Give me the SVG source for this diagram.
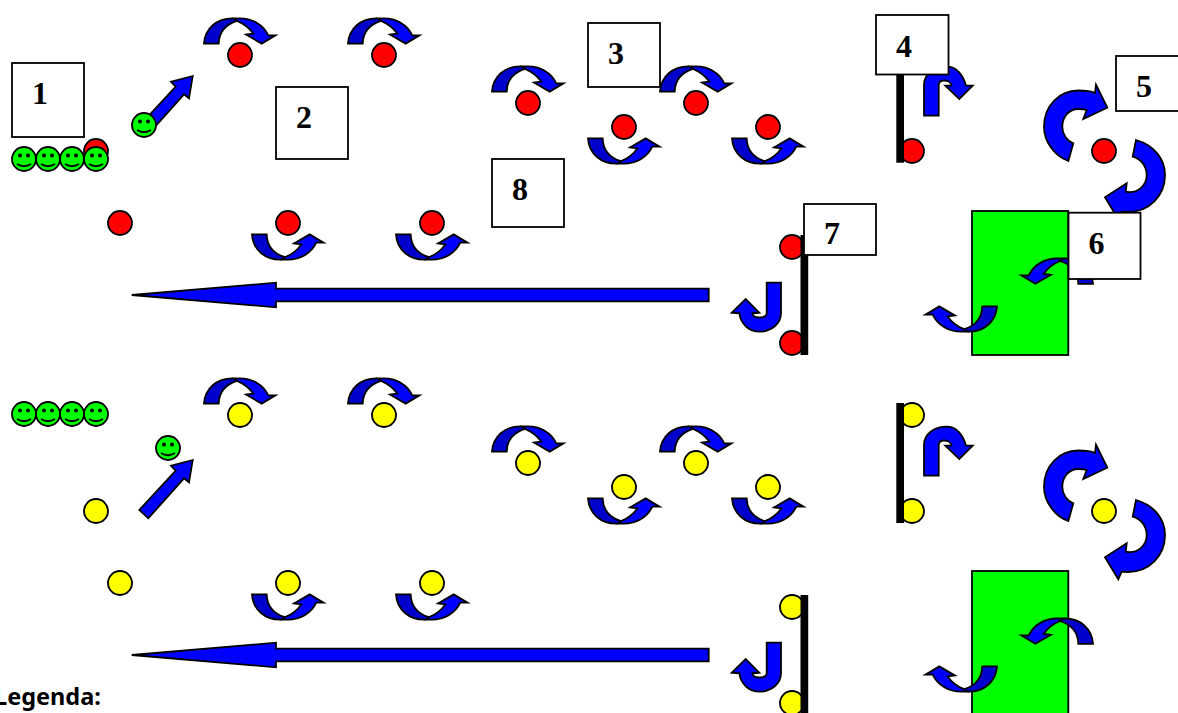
<svg xmlns="http://www.w3.org/2000/svg" width="1178" height="713" viewBox="0 0 1178 713">
<style>
.o{stroke:#000;stroke-width:1.8;stroke-linejoin:miter}
.a{fill:#0000ff}
.d{fill:#0000cc}
.r{fill:#ff0000}
.y{fill:#ffff00}
.g{fill:#00ff00}
.b{fill:#fff;stroke:#000;stroke-width:1.8}
.s{fill:#000;stroke:none}
.t{font-family:"Liberation Serif","Times New Roman",serif;font-weight:bold;font-size:32px;fill:#000}
.l{font-family:"Noto Sans",sans-serif;font-weight:bold;font-size:23.5px;fill:#000}
</style>
<defs>
<g id="curve">
<path class="o a" d="M28,0L36,0C48,0 59,6 64.3,17L71.5,17L57.7,25.3L42,16.3L49.3,15.3C45,9 39,5 33,2.5C32,1.5 30,0.5 28,0Z"/>
<path class="o d" d="M0,25.3C1,10 13,0 28,0C30,0 32,1.5 33,2.5C22,6 15,14 14.7,25.3Z"/>
</g>
<path id="bigA" class="o a" d="M-35.7,10C-50,5 -60,-10 -60,-24.3C-60,-45 -45,-60.5 -25.7,-60.5C-19,-60.5 -13,-60 -9,-58L-8,-66.3L3.3,-43.3L-20.7,-32L-17.3,-41C-20,-42 -23,-42 -25.7,-42C-35,-42 -41.7,-34 -41.7,-24.3C-41.7,-17 -37,-10 -30.7,-7.7Z"/>
<path id="bigB" class="o a" d="M32,-11C50,-6 61,8 61,24C61,45 45,61 24,61L17.7,60.7L14.3,68.3L1,46.3L22.7,32.3L21.7,40.7C33,43 42.7,35 42.7,24C42.7,15 37,8 28.7,5.7Z"/>
<path id="hook" class="o a" d="M924,115.7L924,85C924,74 934,66.7 946.7,66.7C956,66.7 963,74 966,85.7L972.7,85.7L959.3,99L945.3,85.7L951.7,85.7C951,82 947,80.5 944,80.5C941,80.5 938.7,82 938.7,85L938.7,115.7Z"/>
<path id="jay" class="o a" d="M781,282.7L781,313.3C781,324 771,331.7 759.3,331.7C749,331.7 741,324 739.3,313.3L731.7,312.7L745.7,299L759.3,312.7L752.3,313.3C753,316 755,317.5 758.3,317.5C763,317.5 766.7,316 766.7,313.3L766.7,282.7Z"/>
<path id="long" class="o a" d="M708.7,288.7L276,288.7L276,282.7L131.7,295L276,307.3L276,301.3L708.7,301.3Z"/>
<path id="diag" class="o a" d="M192.7,76L171,81.7L175.7,86.7L139.3,126L148.3,134.3L184,94.3L189,98.3Z"/>
<g id="smile">
<circle class="o g" r="12"/>
<circle class="s" cx="-4" cy="-3.5" r="2"/>
<circle class="s" cx="4" cy="-3.5" r="2"/>
<path d="M-7,5Q0,9.5 7,5" fill="none" stroke="#000" stroke-width="1.8"/>
</g>
</defs>

<g id="greenrect1"><rect class="o g" x="972" y="211" width="96.3" height="144"/></g>
<g id="greenrect2"><rect class="o g" x="972" y="571" width="96.3" height="144"/></g>

<g id="redballs">
<circle class="o r" cx="240" cy="55" r="12"/>
<circle class="o r" cx="384" cy="55" r="12"/>
<circle class="o r" cx="528" cy="103" r="12"/>
<circle class="o r" cx="696" cy="103" r="12"/>
<circle class="o r" cx="624" cy="127" r="12"/>
<circle class="o r" cx="768" cy="127" r="12"/>
<circle class="o r" cx="912" cy="151" r="12"/>
<circle class="o r" cx="1104" cy="151" r="12"/>
<circle class="o r" cx="120" cy="223" r="12"/>
<circle class="o r" cx="288" cy="223" r="12"/>
<circle class="o r" cx="432" cy="223" r="12"/>
<circle class="o r" cx="792" cy="247" r="12"/>
<circle class="o r" cx="792" cy="343" r="12"/>
<circle class="o r" cx="96" cy="151" r="12"/>
</g>
<g id="yellowballs">
<circle class="o y" cx="240" cy="415" r="12"/>
<circle class="o y" cx="384" cy="415" r="12"/>
<circle class="o y" cx="528" cy="463" r="12"/>
<circle class="o y" cx="696" cy="463" r="12"/>
<circle class="o y" cx="624" cy="487" r="12"/>
<circle class="o y" cx="768" cy="487" r="12"/>
<circle class="o y" cx="912" cy="415" r="12"/>
<circle class="o y" cx="912" cy="511" r="12"/>
<circle class="o y" cx="1104" cy="511" r="12"/>
<circle class="o y" cx="96" cy="511" r="12"/>
<circle class="o y" cx="120" cy="583" r="12"/>
<circle class="o y" cx="288" cy="583" r="12"/>
<circle class="o y" cx="432" cy="583" r="12"/>
<circle class="o y" cx="792" cy="607" r="12"/>
<circle class="o y" cx="792" cy="703" r="12"/>
</g>

<g id="walls">
<rect class="s" x="896.3" y="60" width="7.7" height="102.7"/>
<rect class="s" x="800.5" y="235" width="7.7" height="120"/>
<rect class="s" x="896.3" y="403" width="7.7" height="120"/>
<rect class="s" x="800.5" y="595" width="7.7" height="120"/>
</g>

<g id="connectors">
<use href="#diag"/>
<use href="#diag" y="384"/>
<use href="#curve" transform="translate(204,18.3)"/>
<use href="#curve" transform="translate(348,18.3)"/>
<use href="#curve" transform="translate(492,66.3)"/>
<use href="#curve" transform="translate(660,66.3)"/>
<use href="#curve" transform="translate(588,163.7) scale(1,-1)"/>
<use href="#curve" transform="translate(732,163.7) scale(1,-1)"/>
<use href="#curve" transform="translate(252,259.7) scale(1,-1)"/>
<use href="#curve" transform="translate(396,259.7) scale(1,-1)"/>
<use href="#hook"/>
<use href="#bigA" transform="translate(1104,151)"/>
<use href="#bigB" transform="translate(1104,151)"/>
<use href="#curve" transform="translate(1093,258.5) scale(-1,1)"/>
<use href="#curve" transform="translate(997,331.7) scale(-1,-1)"/>
<use href="#jay"/>
<use href="#long"/>
<use href="#curve" transform="translate(204,378.3)"/>
<use href="#curve" transform="translate(348,378.3)"/>
<use href="#curve" transform="translate(492,426.3)"/>
<use href="#curve" transform="translate(660,426.3)"/>
<use href="#curve" transform="translate(588,523.7) scale(1,-1)"/>
<use href="#curve" transform="translate(732,523.7) scale(1,-1)"/>
<use href="#curve" transform="translate(252,619.7) scale(1,-1)"/>
<use href="#curve" transform="translate(396,619.7) scale(1,-1)"/>
<use href="#hook" y="360"/>
<use href="#bigA" transform="translate(1104,511)"/>
<use href="#bigB" transform="translate(1104,511)"/>
<use href="#curve" transform="translate(1093,618.5) scale(-1,1)"/>
<use href="#curve" transform="translate(997,691.7) scale(-1,-1)"/>
<use href="#jay" y="360"/>
<use href="#long" y="360"/>
</g>

<g id="faces1">
<use href="#smile" x="24" y="159"/>
<use href="#smile" x="48" y="159"/>
<use href="#smile" x="72" y="159"/>
<use href="#smile" x="96" y="159"/>
<use href="#smile" x="144" y="125"/>
</g>
<g id="faces2">
<use href="#smile" x="24" y="414"/>
<use href="#smile" x="48" y="414"/>
<use href="#smile" x="72" y="414"/>
<use href="#smile" x="96" y="414"/>
<use href="#smile" x="168" y="448"/>
</g>

<g id="box1"><rect class="b" x="12" y="63" width="72" height="74"/><text class="t" x="40" y="104" text-anchor="middle">1</text></g>
<g id="box2"><rect class="b" x="276" y="87" width="72" height="72"/><text class="t" x="304" y="128" text-anchor="middle">2</text></g>
<g id="box3"><rect class="b" x="588" y="23" width="72" height="64"/><text class="t" x="616" y="64" text-anchor="middle">3</text></g>
<g id="box4"><rect class="b" x="876" y="15" width="72.5" height="59.5"/><text class="t" x="904" y="56.5" text-anchor="middle">4</text></g>
<g id="box5"><rect class="b" x="1116" y="56" width="72" height="55"/><text class="t" x="1144" y="96.5" text-anchor="middle">5</text></g>
<g id="box6"><rect class="b" x="1068.5" y="212.7" width="72" height="66.3"/><text class="t" x="1096.5" y="254" text-anchor="middle">6</text></g>
<g id="box7"><rect class="b" x="804" y="204" width="72" height="51"/><text class="t" x="832" y="244" text-anchor="middle">7</text></g>
<g id="box8"><rect class="b" x="492" y="159" width="72" height="68"/><text class="t" x="520" y="200" text-anchor="middle">8</text></g>

<g id="legend"><text class="l" x="-6" y="705">Legenda:</text></g>
</svg>
